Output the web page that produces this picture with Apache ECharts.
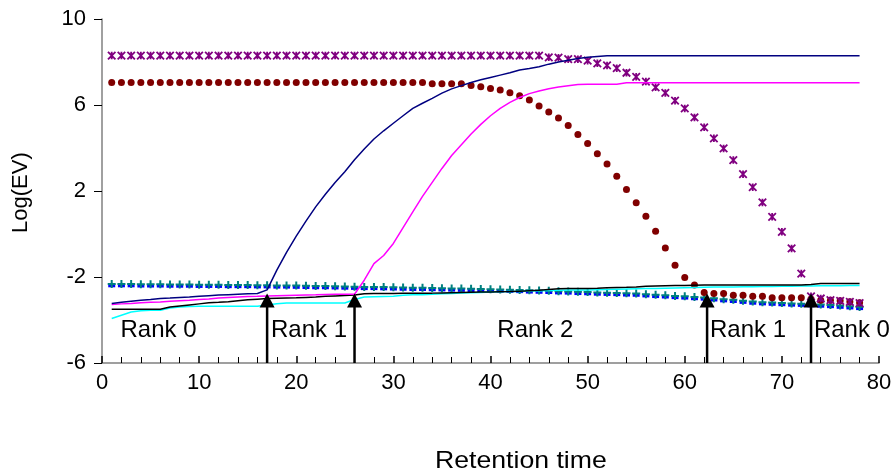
<!DOCTYPE html>
<html>
<head>
<meta charset="utf-8">
<script src="https://cdn.jsdelivr.net/npm/echarts@6/dist/echarts.min.js"></script>
<style>html,body{margin:0;padding:0;background:#fff}#c{width:896px;height:475px}</style>
</head>
<body>
<div id="c"></div>
<script>
const times = [1,2,3,4,5,6,7,8,9,10,11,12,13,14,15,16,17,18,19,20,21,22,23,24,25,26,27,28,29,30,31,32,33,34,35,36,37,38,39,40,41,42,43,44,45,46,47,48,49,50,51,52,53,54,55,56,57,58,59,60,61,62,63,64,65,66,67,68,69,70,71,72,73,74,75,76,77,78];

const purpleX = [8.3,8.3,8.3,8.3,8.3,8.3,8.3,8.3,8.3,8.3,8.3,8.3,8.3,8.3,8.3,8.3,8.3,8.3,8.3,8.3,8.3,8.3,8.3,8.3,8.3,8.3,8.3,8.3,8.3,8.3,8.3,8.3,8.3,8.3,8.3,8.3,8.3,8.3,8.3,8.3,8.3,8.3,8.3,8.3,8.3,
 8.22,8.2,8.13,8.13,8.06,7.94,7.84,7.71,7.5,7.31,7.09,6.82,6.56,6.2,5.84,5.42,4.96,4.45,3.98,3.44,2.78,2.18,1.47,0.8,0.1,-0.67,-1.84,-2.9,-3.0,-3.08,-3.11,-3.16,-3.21];

const redDots = [7.05,7.05,7.05,7.05,7.05,7.05,7.05,7.05,7.05,7.05,7.05,7.05,7.05,7.05,7.05,7.05,7.05,7.05,7.05,7.05,7.05,7.05,7.05,7.05,7.05,7.05,7.05,7.05,7.05,7.05,7.05,7.05,7.05,
 6.99,6.99,6.99,6.99,6.91,6.85,6.77,6.7,6.57,6.43,6.23,5.95,5.67,5.39,5.05,4.63,4.21,3.73,3.26,2.69,2.07,1.45,0.83,0.13,-0.65,-1.45,-2.02,-2.37,-2.72,-2.77,-2.77,-2.85,-2.85,-2.89,-2.89,-2.97,-2.97,-2.97,-2.97,-3.02,-3.08,-3.08,-3.11,-3.15,-3.2];

const navyLine = [-3.23,-3.18,-3.13,-3.08,-3.05,-3.0,-2.98,-2.95,-2.93,-2.9,-2.87,-2.84,-2.82,-2.8,-2.78,-2.77,-2.6,-1.68,-0.85,-0.1,0.6,1.26,1.85,2.4,2.9,3.45,3.95,4.42,4.8,5.15,5.5,5.84,6.08,6.31,6.55,6.75,6.9,7.05,7.17,7.28,7.39,7.5,7.63,7.7,7.78,7.9,8.0,8.08,8.16,8.22,8.26,
 8.29,8.29,8.29,8.29,8.29,8.29,8.29,8.29,8.29,8.29,8.29,8.29,8.29,8.29,8.29,8.29,8.29,8.29,8.29,8.29,8.29,8.29,8.29,8.29,8.29,8.29,8.29];

const magentaLine = [-3.28,-3.25,-3.23,-3.2,-3.18,-3.16,-3.13,-3.1,-3.08,-3.05,-3.02,-2.98,-2.95,-2.93,-2.91,-2.9,-2.88,-2.87,-2.86,-2.85,-2.84,-2.83,-2.81,-2.8,-2.8,-2.8,-2.15,-1.38,-1.0,-0.44,0.3,1.03,1.75,2.4,3.05,3.65,4.15,4.65,5.1,5.5,5.84,6.12,6.35,6.53,6.65,6.76,6.84,6.9,6.95,6.96,6.96,6.96,6.97,
 7.04,7.04,7.04,7.04,7.04,7.04,7.04,7.04,7.04,7.04,7.04,7.04,7.04,7.04,7.04,7.04,7.04,7.04,7.04,7.04,7.04,7.04,7.04,7.04,7.04];

const blackLine = [-3.5,-3.5,-3.5,-3.5,-3.5,-3.5,-3.4,-3.35,-3.3,-3.25,-3.2,-3.18,-3.15,-3.1,-3.06,-3.03,-3.0,-2.99,-2.98,-2.97,-2.95,-2.93,-2.9,-2.88,-2.86,-2.84,-2.78,-2.77,-2.77,-2.77,-2.76,-2.76,-2.75,-2.75,-2.74,-2.73,-2.72,-2.71,-2.7,-2.7,-2.69,-2.68,-2.66,-2.64,-2.62,-2.58,-2.55,-2.54,-2.54,-2.53,-2.52,-2.5,-2.49,-2.48,-2.46,-2.43,-2.42,-2.41,-2.4,-2.39,-2.38,
 -2.37,-2.37,-2.37,-2.37,-2.37,-2.37,-2.37,-2.37,-2.37,-2.37,-2.37,-2.35,-2.3,-2.3,-2.3,-2.3,-2.3];

const cyanLine = [-3.93,-3.78,-3.63,-3.57,-3.55,-3.55,-3.44,-3.4,-3.37,-3.36,-3.36,-3.36,-3.36,-3.36,-3.36,-3.36,-3.3,-3.24,-3.21,-3.21,-3.21,-3.21,-3.21,-3.21,-3.21,-3.05,-2.93,-2.92,-2.91,-2.9,-2.85,-2.83,-2.82,-2.8,-2.78,-2.77,-2.75,-2.73,-2.72,-2.7,-2.69,-2.68,-2.67,-2.65,-2.64,-2.63,-2.62,-2.61,-2.6,-2.6,-2.59,-2.58,-2.57,-2.56,-2.55,-2.54,-2.53,-2.52,-2.51,-2.5,-2.49,-2.48,-2.47,-2.47,-2.46,-2.45,-2.45,-2.44,-2.44,-2.43,-2.43,-2.42,-2.42,-2.41,-2.41,-2.41,-2.4,-2.4];

const tealPlus = [-2.33,-2.33,-2.33,-2.34,-2.34,-2.34,-2.35,-2.35,-2.35,-2.36,-2.36,-2.36,-2.37,-2.37,-2.37,-2.38,-2.38,-2.39,-2.39,-2.4,-2.41,-2.42,-2.42,-2.43,-2.44,-2.45,-2.46,-2.46,-2.47,-2.48,-2.49,-2.5,-2.5,-2.51,-2.52,-2.53,-2.54,-2.55,-2.56,-2.57,-2.58,-2.59,-2.6,-2.62,-2.63,-2.64,-2.66,-2.67,-2.69,-2.7,-2.72,-2.73,-2.74,-2.76,-2.77,-2.8,-2.83,-2.85,-2.88,-2.9,-2.93,-2.95,-2.99,-3.03,-3.06,-3.1,-3.14,-3.17,-3.19,-3.21,-3.23,-3.24,-3.26,-3.28,-3.3,-3.33,-3.36,-3.39];

const blueDash = [-2.41,-2.41,-2.41,-2.42,-2.42,-2.42,-2.43,-2.43,-2.43,-2.44,-2.44,-2.44,-2.45,-2.45,-2.45,-2.46,-2.46,-2.47,-2.47,-2.48,-2.49,-2.5,-2.5,-2.51,-2.52,-2.53,-2.54,-2.54,-2.55,-2.56,-2.57,-2.58,-2.58,-2.59,-2.6,-2.61,-2.62,-2.63,-2.64,-2.65,-2.66,-2.67,-2.68,-2.7,-2.71,-2.72,-2.74,-2.75,-2.77,-2.78,-2.8,-2.81,-2.82,-2.84,-2.85,-2.88,-2.91,-2.93,-2.96,-2.98,-3.01,-3.03,-3.07,-3.11,-3.14,-3.18,-3.22,-3.25,-3.27,-3.29,-3.31,-3.32,-3.34,-3.36,-3.38,-3.41,-3.44,-3.47];

const arrowX = [17, 26, 62.3, 73];
const arrowTip = [-2.77, -2.77, -2.77, -2.77];

const rankText = ['Rank 0', 'Rank 1', 'Rank 2', 'Rank 1', 'Rank 0'];
const rankX = [1.9, 17.4, 40.7, 62.6, 73.3];
const rankY = [-4.5, -4.5, -4.5, -4.5, -4.5];

const xTicks = [0, 10, 20, 30, 40, 50, 60, 70, 80];
const yTicks = [-6, -2, 2, 6, 10];

const FONT = '"Liberation Sans", Arial, sans-serif';
const pairs = (ys) => times.map((t, i) => [t, ys[i]]);

const chart = echarts.init(document.getElementById('c'));
const lineSeries = (data, color) => ({
  type: 'line', data: pairs(data), showSymbol: false, symbol: 'none',
  lineStyle: { color: color, width: 1.5 }, silent: true, animation: false
});

chart.setOption({
  animation: false,
  grid: { left: 102, right: 17, top: 19, bottom: 112, containLabel: false },
  xAxis: {
    type: 'value', min: xTicks[0], max: xTicks[xTicks.length - 1], interval: 10,
    axisLine: { show: true, onZero: false, lineStyle: { color: '#808080', width: 1.5 } },
    axisTick: { show: true, inside: true, length: 7, lineStyle: { color: '#000', width: 1.5 } },
    minorTick: { show: true, splitNumber: 5, length: 6, lineStyle: { color: '#000', width: 1 } },
    axisLabel: { fontSize: 22, color: '#000', fontFamily: FONT, margin: 9 },
    splitLine: { show: false }
  },
  yAxis: {
    type: 'value', min: yTicks[0], max: yTicks[yTicks.length - 1], interval: 4,
    axisLine: { show: true, onZero: false, lineStyle: { color: '#808080', width: 1.5 } },
    axisTick: { show: true, inside: false, length: 8, lineStyle: { color: '#000', width: 1 } },
    axisLabel: { fontSize: 22, color: '#000', fontFamily: FONT, margin: 16 },
    splitLine: { show: false }
  },
  graphic: [
    { type: 'text', x: 435, y: 449, scaleX: 1.11, style: { text: 'Retention time', fontSize: 24, fontFamily: FONT, fill: '#000' } },
    { type: 'text', x: 10, y: 233, rotation: Math.PI / 2, style: { text: 'Log(EV)', fontSize: 22, fontFamily: FONT, fill: '#000' } }
  ],
  series: [
    lineSeries(cyanLine, '#00ffff'),
    lineSeries(blackLine, '#000000'),
    lineSeries(magentaLine, '#ff00ff'),
    lineSeries(navyLine, '#000080'),
    {
      type: 'scatter', data: pairs(blueDash), symbol: 'rect', symbolSize: [7, 3],
      itemStyle: { color: '#0000ff', opacity: 1 }, silent: true
    },
    {
      type: 'scatter', data: pairs(tealPlus), symbol: 'path://M5,0L5,10M0,5L10,5', symbolSize: 8,
      itemStyle: { color: '#008080', borderColor: '#008080', borderWidth: 2, opacity: 1 }, silent: true
    },
    {
      type: 'scatter', data: pairs(redDots), symbol: 'circle', symbolSize: 7,
      itemStyle: { color: '#800000', opacity: 1 }, silent: true
    },
    {
      type: 'scatter', data: pairs(purpleX), symbol: 'path://M0,0L10,10M10,0L0,10M5,0L5,10', symbolSize: 7.5,
      itemStyle: { color: '#800080', borderColor: '#800080', borderWidth: 1.8, opacity: 1 }, silent: true
    },
    {
      type: 'custom', silent: true, z: 5,
      data: arrowX.map((x, i) => [x, arrowTip[i]]),
      renderItem: function (params, api) {
        const base = api.coord([api.value(0), yTicks[0]]);
        const tip = api.coord([api.value(0), api.value(1)]);
        return {
          type: 'group', children: [
            { type: 'line', shape: { x1: base[0], y1: base[1], x2: tip[0], y2: tip[1] + 10 }, style: { stroke: '#000', lineWidth: 2.5 } },
            { type: 'polygon', shape: { points: [[tip[0], tip[1]], [tip[0] - 7.5, tip[1] + 14], [tip[0] + 7.5, tip[1] + 14]] }, style: { fill: '#000' } }
          ]
        };
      }
    },
    {
      type: 'custom', silent: true, z: 6,
      data: rankX.map((x, i) => [x, rankY[i], i]),
      renderItem: function (params, api) {
        const p = api.coord([api.value(0), api.value(1)]);
        return {
          type: 'text', x: p[0], y: p[1],
          style: { text: rankText[params.dataIndex], fontSize: 24, fontFamily: FONT, fill: '#000', verticalAlign: 'middle', align: 'left' }
        };
      }
    }
  ]
});
</script>
</body>
</html>
